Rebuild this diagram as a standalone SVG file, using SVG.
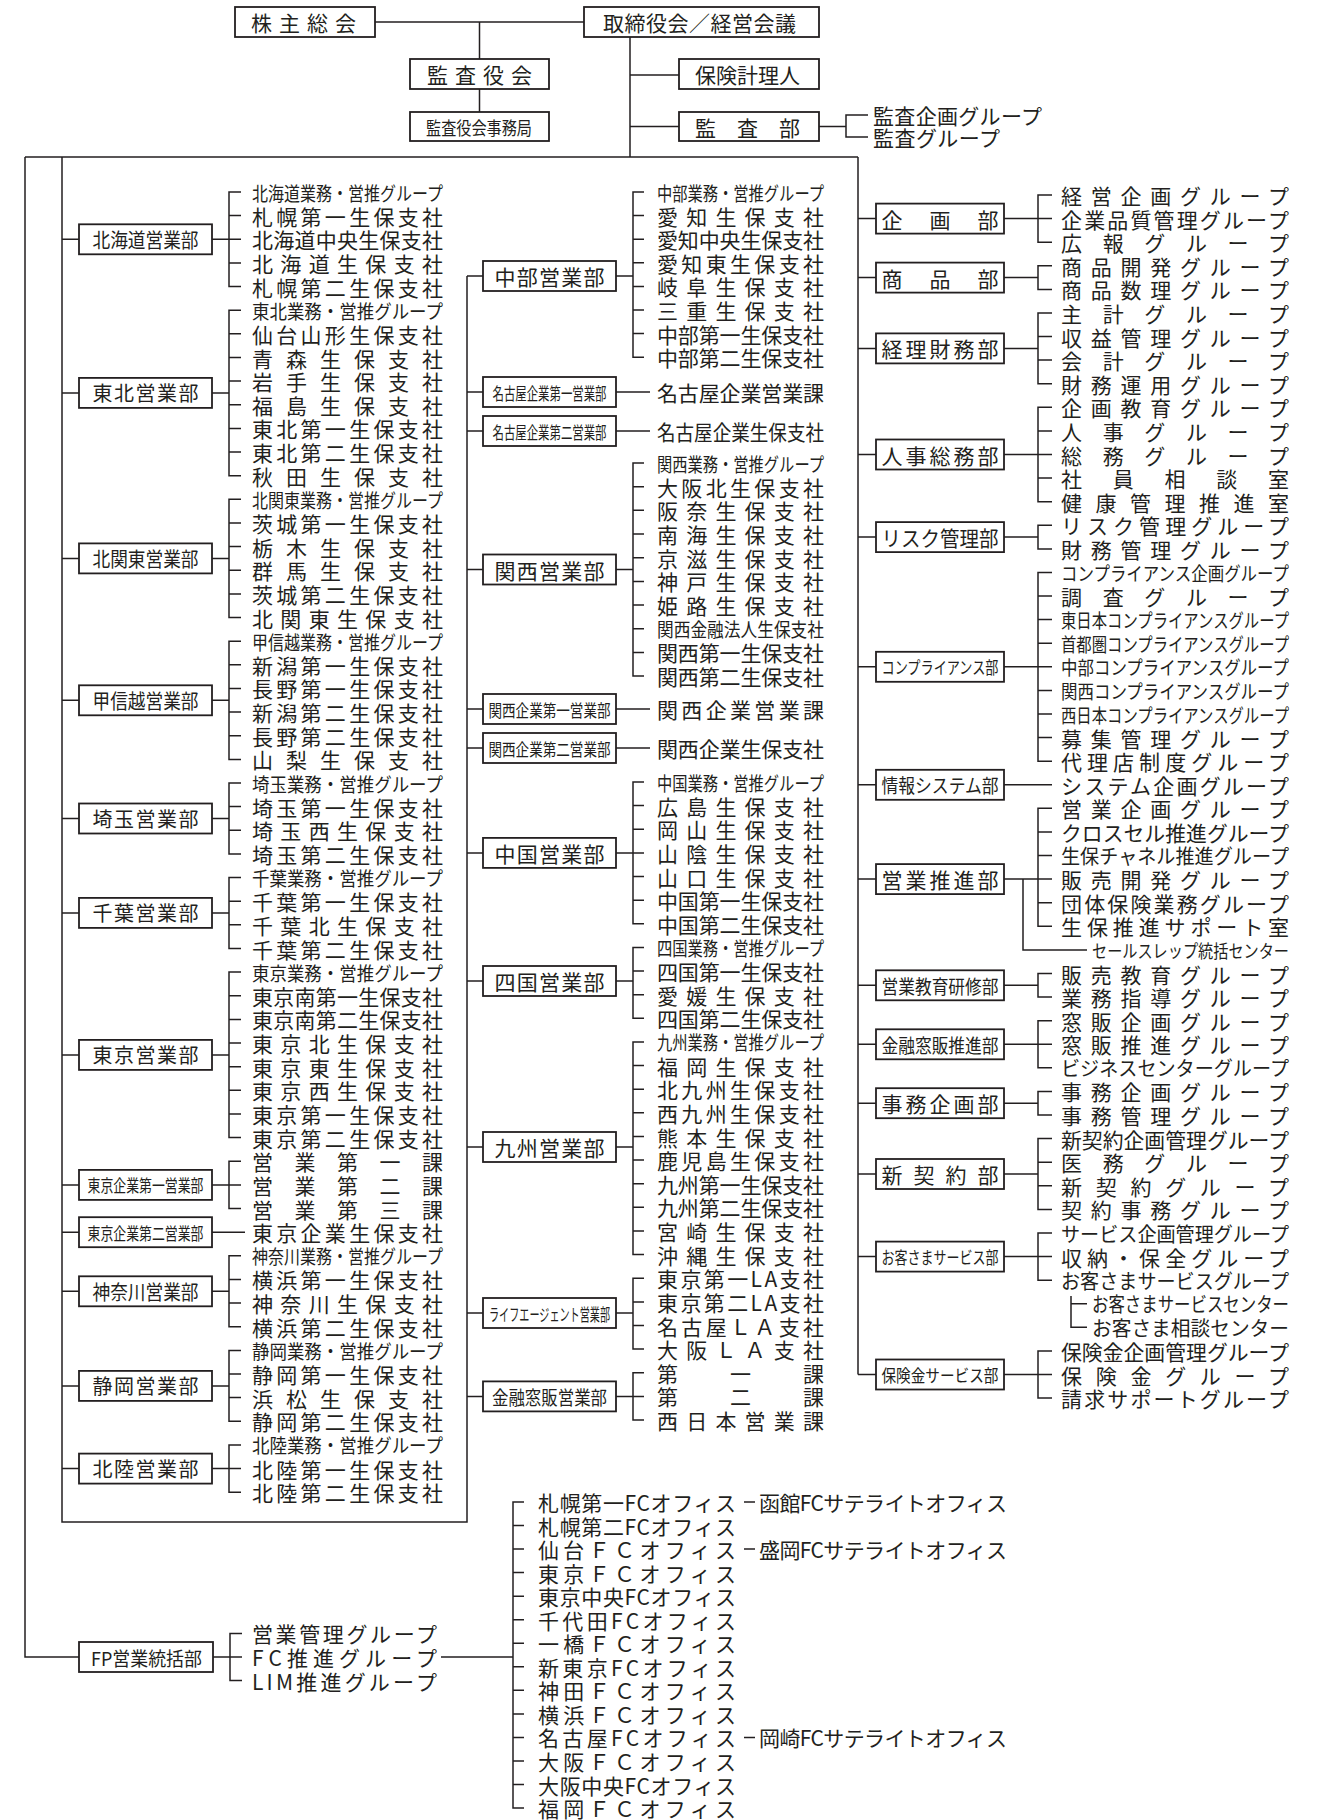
<svg xmlns="http://www.w3.org/2000/svg" width="1332" height="1820" viewBox="0 0 1332 1820">
<style>
text{font-family:"Noto Sans CJK JP","Noto Sans CJK SC",sans-serif;fill:#231f20;dominant-baseline:central}
.f21{font-size:21px}.f20{font-size:20px}.f19{font-size:19px}.f18{font-size:18px}.f17{font-size:17px}
.box{fill:#fff;stroke:#231f20;stroke-width:1.8}
#connectors path{fill:none;stroke:#231f20;stroke-width:1.5}
</style>
<rect width="1332" height="1820" fill="#fff"/>
<g id="connectors">
<path d="M375,22H584 M479.5,22V59 M479.5,89V112 M630,37V157 M630,75H679 M630,126.5H679 M819,126.5H846 M868,115H846V137H868"/>
<path d="M25,157H858 M25,157V1657H79 M62,157V1522H467V276 M858,157V1374.5"/>
<path d="M62,239.3H79 M212,239.3H229 M241,192H229V286.6H241 M229,215.6H241 M229,239.3H241 M229,262.9H241"/>
<path d="M62,392.9H79 M212,392.9H229 M241,310.2H229V475.7H241 M229,333.8H241 M229,357.5H241 M229,381.1H241 M229,404.8H241 M229,428.4H241 M229,452H241"/>
<path d="M62,558.4H79 M212,558.4H229 M241,499.3H229V617.5H241 M229,523H241 M229,546.6H241 M229,570.2H241 M229,593.9H241"/>
<path d="M62,700.3H79 M212,700.3H229 M241,641.2H229V759.4H241 M229,664.8H241 M229,688.4H241 M229,712.1H241 M229,735.7H241"/>
<path d="M62,818.5H79 M212,818.5H229 M241,783H229V853.9H241 M229,806.6H241 M229,830.3H241"/>
<path d="M62,912.9H79 M212,912.9H229 M241,877.6H229V948.5H241 M229,901.2H241 M229,924.8H241"/>
<path d="M62,1054.9H79 M212,1054.9H229 M241,972.1H229V1137.6H241 M229,995.8H241 M229,1019.4H241 M229,1043H241 M229,1066.7H241 M229,1090.3H241 M229,1114H241"/>
<path d="M62,1184.9H79 M212,1184.9H229 M241,1161.2H229V1208.5H241 M229,1184.9H241"/>
<path d="M62,1232.2H79 M212,1232.2H245"/>
<path d="M62,1291.3H79 M212,1291.3H229 M241,1255.8H229V1326.7H241 M229,1279.4H241 M229,1303.1H241"/>
<path d="M62,1385.9H79 M212,1385.9H229 M241,1350.4H229V1421.3H241 M229,1374H241 M229,1397.6H241"/>
<path d="M62,1468.6H79 M212,1468.6H229 M241,1444.9H229V1492.2H241 M229,1468.6H241"/>
<path d="M467,276H483 M616,276H633 M644,192H633V357.2H644 M633,215.6H644 M633,239.2H644 M633,262.8H644 M633,286.4H644 M633,310H644 M633,333.6H644"/>
<path d="M467,392H483 M616,392H650 M467,431H483 M616,431H650"/>
<path d="M467,569.5H483 M616,569.5H633 M644,463H633V676H644 M633,486.7H644 M633,510.3H644 M633,534H644 M633,557.7H644 M633,581.4H644 M633,605H644 M633,628.7H644 M633,652.4H644"/>
<path d="M467,709H483 M616,709H650 M467,748H483 M616,748H650"/>
<path d="M467,852.9H483 M616,852.9H633 M644,782H633V923.8H644 M633,805.6H644 M633,829.3H644 M633,852.9H644 M633,876.5H644 M633,900.2H644"/>
<path d="M467,981H483 M616,981H633 M644,947.4H633V1018.3H644 M633,971H644 M633,994.7H644"/>
<path d="M467,1147H483 M616,1147H633 M644,1041.9H633V1254.6H644 M633,1065.6H644 M633,1089.2H644 M633,1112.8H644 M633,1136.5H644 M633,1160.1H644 M633,1183.7H644 M633,1207.3H644 M633,1231H644"/>
<path d="M467,1313H483 M616,1313H633 M644,1278.2H633V1349.1H644 M633,1301.9H644 M633,1325.5H644"/>
<path d="M467,1396.4H483 M616,1396.4H633 M644,1372.8H633V1420H644 M633,1396.4H644"/>
<path d="M858,218.6H876 M1004,218.6H1038 M1052,195H1038V242.2H1052 M1038,218.6H1052"/>
<path d="M858,277.6H876 M1004,277.6H1038 M1052,265.8H1038V289.4H1052"/>
<path d="M858,348.4H876 M1004,348.4H1038 M1052,313H1038V383.7H1052 M1038,336.5H1052 M1038,360.1H1052"/>
<path d="M858,454.5H876 M1004,454.5H1038 M1052,407.3H1038V501.7H1052 M1038,430.9H1052 M1038,454.5H1052 M1038,478.1H1052"/>
<path d="M858,537.1H876 M1004,537.1H1038 M1052,525.3H1038V548.9H1052"/>
<path d="M858,666.8H876 M1004,666.8H1038 M1052,572.4H1038V761.2H1052 M1038,596H1052 M1038,619.6H1052 M1038,643.2H1052 M1038,666.8H1052 M1038,690.4H1052 M1038,714H1052 M1038,737.6H1052"/>
<path d="M858,784.8H876 M1004,784.8H1052"/>
<path d="M858,879.1H876 M1004,879.1H1038 M1052,808.3H1038V926.3H1052 M1038,831.9H1052 M1038,855.5H1052 M1038,879.1H1052 M1038,902.7H1052 M1023,879.1V949.9H1087"/>
<path d="M858,985.3H876 M1004,985.3H1038 M1052,973.5H1038V997.1H1052"/>
<path d="M858,1044.3H876 M1004,1044.3H1038 M1052,1020.7H1038V1067.8H1052 M1038,1044.3H1052"/>
<path d="M858,1103.2H876 M1004,1103.2H1038 M1052,1091.4H1038V1115H1052"/>
<path d="M858,1174H876 M1004,1174H1038 M1052,1138.6H1038V1209.4H1052 M1038,1162.2H1052 M1038,1185.8H1052"/>
<path d="M858,1256.6H876 M1004,1256.6H1038 M1052,1233H1038V1280.2H1052 M1038,1256.6H1052 M1071,1296V1327.3H1087 M1071,1303.7H1087"/>
<path d="M858,1374.5H876 M1004,1374.5H1038 M1052,1350.9H1038V1398.1H1052 M1038,1374.5H1052"/>
<path d="M213,1657H230 M242,1633.4H230V1680.6H242 M230,1657H242 M441,1657H513"/>
<path d="M524,1502H513V1808H524 M513,1525.5H524 M513,1549.1H524 M513,1572.6H524 M513,1596.2H524 M513,1619.7H524 M513,1643.2H524 M513,1666.8H524 M513,1690.3H524 M513,1713.9H524 M513,1737.4H524 M513,1760.9H524 M513,1784.5H524"/>
<path d="M744,1502H755 M744,1549.1H755 M744,1737.4H755"/>
</g>

<g id="n-kabunushi"><rect class="box" x="235" y="7" width="140" height="30"/><text class="f21" x="251" y="22" textLength="105">株主総会</text></g>
<g id="n-torishimari"><rect class="box" x="584" y="7" width="235" height="30"/><text class="f21" x="603" y="22" textLength="193">取締役会／経営会議</text></g>
<g id="n-kansayakukai"><rect class="box" x="410" y="59" width="139" height="30"/><text class="f21" x="427" y="74" textLength="105">監査役会</text></g>
<g id="n-kansajimukyoku"><rect class="box" x="410" y="112" width="139" height="29"/><text class="f18" x="426" y="126.5" textLength="106" lengthAdjust="spacingAndGlyphs">監査役会事務局</text></g>
<g id="n-hokenkeirinin"><rect class="box" x="679" y="59" width="140" height="30"/><text class="f21" x="695" y="74" textLength="105">保険計理人</text></g>
<g id="n-kansabu"><rect class="box" x="679" y="112" width="140" height="29"/><text class="f21" x="695" y="126.5" textLength="105">監査部</text></g>
<g id="items-kansabu" class="f21"><text x="873" y="115" textLength="169">監査企画グループ</text><text x="873" y="137" textLength="127">監査グループ</text></g>

<g id="n-hokkaido"><rect class="box" x="79" y="224.3" width="133" height="30"/><text class="f20" x="92.5" y="239.3" textLength="106" lengthAdjust="spacingAndGlyphs">北海道営業部</text></g>
<g id="n-tohoku"><rect class="box" x="79" y="377.9" width="133" height="30"/><text class="f20" x="92.5" y="392.9" textLength="106">東北営業部</text></g>
<g id="n-kitakanto"><rect class="box" x="79" y="543.4" width="133" height="30"/><text class="f20" x="92.5" y="558.4" textLength="106" lengthAdjust="spacingAndGlyphs">北関東営業部</text></g>
<g id="n-koshinetsu"><rect class="box" x="79" y="685.3" width="133" height="30"/><text class="f20" x="92.5" y="700.3" textLength="106" lengthAdjust="spacingAndGlyphs">甲信越営業部</text></g>
<g id="n-saitama"><rect class="box" x="79" y="803.5" width="133" height="30"/><text class="f20" x="92.5" y="818.5" textLength="106">埼玉営業部</text></g>
<g id="n-chiba"><rect class="box" x="79" y="897.9" width="133" height="30"/><text class="f20" x="92.5" y="912.9" textLength="106">千葉営業部</text></g>
<g id="n-tokyo"><rect class="box" x="79" y="1039.9" width="133" height="30"/><text class="f20" x="92.5" y="1054.9" textLength="106">東京営業部</text></g>
<g id="n-tokyokigyo1"><rect class="box" x="79" y="1169.9" width="133" height="30"/><text class="f17" x="87.5" y="1184.9" textLength="116" lengthAdjust="spacingAndGlyphs">東京企業第一営業部</text></g>
<g id="n-tokyokigyo2"><rect class="box" x="79" y="1217.2" width="133" height="30"/><text class="f17" x="87.5" y="1232.2" textLength="116" lengthAdjust="spacingAndGlyphs">東京企業第二営業部</text></g>
<g id="n-kanagawa"><rect class="box" x="79" y="1276.3" width="133" height="30"/><text class="f20" x="92.5" y="1291.3" textLength="106" lengthAdjust="spacingAndGlyphs">神奈川営業部</text></g>
<g id="n-shizuoka"><rect class="box" x="79" y="1370.9" width="133" height="30"/><text class="f20" x="92.5" y="1385.9" textLength="106">静岡営業部</text></g>
<g id="n-hokuriku"><rect class="box" x="79" y="1453.6" width="133" height="30"/><text class="f20" x="92.5" y="1468.6" textLength="106">北陸営業部</text></g>

<g id="items-left" class="f21">
<text class="f19" x="252" y="192" textLength="191" lengthAdjust="spacingAndGlyphs">北海道業務・営推グループ</text>
<text x="252" y="215.6" textLength="191">札幌第一生保支社</text>
<text x="252" y="239.3" textLength="191">北海道中央生保支社</text>
<text x="252" y="262.9" textLength="191">北海道生保支社</text>
<text x="252" y="286.6" textLength="191">札幌第二生保支社</text>
<text class="f19" x="252" y="310.2" textLength="191" lengthAdjust="spacingAndGlyphs">東北業務・営推グループ</text>
<text x="252" y="333.8" textLength="191">仙台山形生保支社</text>
<text x="252" y="357.5" textLength="191">青森生保支社</text>
<text x="252" y="381.1" textLength="191">岩手生保支社</text>
<text x="252" y="404.8" textLength="191">福島生保支社</text>
<text x="252" y="428.4" textLength="191">東北第一生保支社</text>
<text x="252" y="452" textLength="191">東北第二生保支社</text>
<text x="252" y="475.7" textLength="191">秋田生保支社</text>
<text class="f19" x="252" y="499.3" textLength="191" lengthAdjust="spacingAndGlyphs">北関東業務・営推グループ</text>
<text x="252" y="523" textLength="191">茨城第一生保支社</text>
<text x="252" y="546.6" textLength="191">栃木生保支社</text>
<text x="252" y="570.2" textLength="191">群馬生保支社</text>
<text x="252" y="593.9" textLength="191">茨城第二生保支社</text>
<text x="252" y="617.5" textLength="191">北関東生保支社</text>
<text class="f19" x="252" y="641.2" textLength="191" lengthAdjust="spacingAndGlyphs">甲信越業務・営推グループ</text>
<text x="252" y="664.8" textLength="191">新潟第一生保支社</text>
<text x="252" y="688.4" textLength="191">長野第一生保支社</text>
<text x="252" y="712.1" textLength="191">新潟第二生保支社</text>
<text x="252" y="735.7" textLength="191">長野第二生保支社</text>
<text x="252" y="759.4" textLength="191">山梨生保支社</text>
<text class="f19" x="252" y="783" textLength="191" lengthAdjust="spacingAndGlyphs">埼玉業務・営推グループ</text>
<text x="252" y="806.6" textLength="191">埼玉第一生保支社</text>
<text x="252" y="830.3" textLength="191">埼玉西生保支社</text>
<text x="252" y="853.9" textLength="191">埼玉第二生保支社</text>
<text class="f19" x="252" y="877.6" textLength="191" lengthAdjust="spacingAndGlyphs">千葉業務・営推グループ</text>
<text x="252" y="901.2" textLength="191">千葉第一生保支社</text>
<text x="252" y="924.8" textLength="191">千葉北生保支社</text>
<text x="252" y="948.5" textLength="191">千葉第二生保支社</text>
<text class="f19" x="252" y="972.1" textLength="191" lengthAdjust="spacingAndGlyphs">東京業務・営推グループ</text>
<text x="252" y="995.8" textLength="191">東京南第一生保支社</text>
<text x="252" y="1019.4" textLength="191">東京南第二生保支社</text>
<text x="252" y="1043" textLength="191">東京北生保支社</text>
<text x="252" y="1066.7" textLength="191">東京東生保支社</text>
<text x="252" y="1090.3" textLength="191">東京西生保支社</text>
<text x="252" y="1114" textLength="191">東京第一生保支社</text>
<text x="252" y="1137.6" textLength="191">東京第二生保支社</text>
<text x="252" y="1161.2" textLength="191">営業第一課</text>
<text x="252" y="1184.9" textLength="191">営業第二課</text>
<text x="252" y="1208.5" textLength="191">営業第三課</text>
<text x="252" y="1232.2" textLength="191">東京企業生保支社</text>
<text class="f19" x="252" y="1255.8" textLength="191" lengthAdjust="spacingAndGlyphs">神奈川業務・営推グループ</text>
<text x="252" y="1279.4" textLength="191">横浜第一生保支社</text>
<text x="252" y="1303.1" textLength="191">神奈川生保支社</text>
<text x="252" y="1326.7" textLength="191">横浜第二生保支社</text>
<text class="f19" x="252" y="1350.4" textLength="191" lengthAdjust="spacingAndGlyphs">静岡業務・営推グループ</text>
<text x="252" y="1374" textLength="191">静岡第一生保支社</text>
<text x="252" y="1397.6" textLength="191">浜松生保支社</text>
<text x="252" y="1421.3" textLength="191">静岡第二生保支社</text>
<text class="f19" x="252" y="1444.9" textLength="191" lengthAdjust="spacingAndGlyphs">北陸業務・営推グループ</text>
<text x="252" y="1468.6" textLength="191">北陸第一生保支社</text>
<text x="252" y="1492.2" textLength="191">北陸第二生保支社</text>
</g>

<g id="n-chubu"><rect class="box" x="483" y="261" width="133" height="30"/><text class="f21" x="494.5" y="276" textLength="110">中部営業部</text></g>
<g id="n-nagoyakigyo1"><rect class="box" x="483" y="377" width="133" height="30"/><text class="f17" x="492.5" y="392" textLength="114" lengthAdjust="spacingAndGlyphs">名古屋企業第一営業部</text></g>
<g id="n-nagoyakigyo2"><rect class="box" x="483" y="416" width="133" height="30"/><text class="f17" x="492.5" y="431" textLength="114" lengthAdjust="spacingAndGlyphs">名古屋企業第二営業部</text></g>
<g id="n-kansai"><rect class="box" x="483" y="554.5" width="133" height="30"/><text class="f21" x="494.5" y="569.5" textLength="110">関西営業部</text></g>
<g id="n-kansaikigyo1"><rect class="box" x="483" y="694" width="133" height="30"/><text class="f17" x="488.5" y="709" textLength="122" lengthAdjust="spacingAndGlyphs">関西企業第一営業部</text></g>
<g id="n-kansaikigyo2"><rect class="box" x="483" y="733" width="133" height="30"/><text class="f17" x="488.5" y="748" textLength="122" lengthAdjust="spacingAndGlyphs">関西企業第二営業部</text></g>
<g id="n-chugoku"><rect class="box" x="483" y="837.9" width="133" height="30"/><text class="f21" x="494.5" y="852.9" textLength="110">中国営業部</text></g>
<g id="n-shikoku"><rect class="box" x="483" y="966" width="133" height="30"/><text class="f21" x="494.5" y="981" textLength="110">四国営業部</text></g>
<g id="n-kyushu"><rect class="box" x="483" y="1132" width="133" height="30"/><text class="f21" x="494.5" y="1147" textLength="110">九州営業部</text></g>
<g id="n-lifeagent"><rect class="box" x="483" y="1298" width="133" height="30"/><text class="f17" x="489" y="1313" textLength="121" lengthAdjust="spacingAndGlyphs">ライフエージェント営業部</text></g>
<g id="n-kinyumadohan"><rect class="box" x="483" y="1381.4" width="133" height="30"/><text class="f19" x="492" y="1396.4" textLength="115" lengthAdjust="spacingAndGlyphs">金融窓販営業部</text></g>

<g id="items-middle" class="f21">
<text class="f19" x="657" y="192" textLength="167" lengthAdjust="spacingAndGlyphs">中部業務・営推グループ</text>
<text x="657" y="215.6" textLength="167">愛知生保支社</text>
<text x="657" y="239.2" textLength="167">愛知中央生保支社</text>
<text x="657" y="262.8" textLength="167">愛知東生保支社</text>
<text x="657" y="286.4" textLength="167">岐阜生保支社</text>
<text x="657" y="310" textLength="167">三重生保支社</text>
<text x="657" y="333.6" textLength="167">中部第一生保支社</text>
<text x="657" y="357.2" textLength="167">中部第二生保支社</text>
<text x="657" y="392" textLength="167">名古屋企業営業課</text>
<text x="657" y="431" textLength="167" lengthAdjust="spacingAndGlyphs">名古屋企業生保支社</text>
<text class="f19" x="657" y="463" textLength="167" lengthAdjust="spacingAndGlyphs">関西業務・営推グループ</text>
<text x="657" y="486.7" textLength="167">大阪北生保支社</text>
<text x="657" y="510.3" textLength="167">阪奈生保支社</text>
<text x="657" y="534" textLength="167">南海生保支社</text>
<text x="657" y="557.7" textLength="167">京滋生保支社</text>
<text x="657" y="581.4" textLength="167">神戸生保支社</text>
<text x="657" y="605" textLength="167">姫路生保支社</text>
<text class="f19" x="657" y="628.7" textLength="167" lengthAdjust="spacingAndGlyphs">関西金融法人生保支社</text>
<text x="657" y="652.4" textLength="167">関西第一生保支社</text>
<text x="657" y="676" textLength="167">関西第二生保支社</text>
<text x="657" y="709" textLength="167">関西企業営業課</text>
<text x="657" y="748" textLength="167">関西企業生保支社</text>
<text class="f19" x="657" y="782" textLength="167" lengthAdjust="spacingAndGlyphs">中国業務・営推グループ</text>
<text x="657" y="805.6" textLength="167">広島生保支社</text>
<text x="657" y="829.3" textLength="167">岡山生保支社</text>
<text x="657" y="852.9" textLength="167">山陰生保支社</text>
<text x="657" y="876.5" textLength="167">山口生保支社</text>
<text x="657" y="900.2" textLength="167">中国第一生保支社</text>
<text x="657" y="923.8" textLength="167">中国第二生保支社</text>
<text class="f19" x="657" y="947.4" textLength="167" lengthAdjust="spacingAndGlyphs">四国業務・営推グループ</text>
<text x="657" y="971" textLength="167">四国第一生保支社</text>
<text x="657" y="994.7" textLength="167">愛媛生保支社</text>
<text x="657" y="1018.3" textLength="167">四国第二生保支社</text>
<text class="f19" x="657" y="1041.9" textLength="167" lengthAdjust="spacingAndGlyphs">九州業務・営推グループ</text>
<text x="657" y="1065.6" textLength="167">福岡生保支社</text>
<text x="657" y="1089.2" textLength="167">北九州生保支社</text>
<text x="657" y="1112.8" textLength="167">西九州生保支社</text>
<text x="657" y="1136.5" textLength="167">熊本生保支社</text>
<text x="657" y="1160.1" textLength="167">鹿児島生保支社</text>
<text x="657" y="1183.7" textLength="167">九州第一生保支社</text>
<text x="657" y="1207.3" textLength="167">九州第二生保支社</text>
<text x="657" y="1231" textLength="167">宮崎生保支社</text>
<text x="657" y="1254.6" textLength="167">沖縄生保支社</text>
<text x="657" y="1278.2" textLength="167">東京第一LA支社</text>
<text x="657" y="1301.9" textLength="167">東京第二LA支社</text>
<text x="657" y="1325.5" textLength="167">名古屋ＬＡ支社</text>
<text x="657" y="1349.1" textLength="167">大阪ＬＡ支社</text>
<text x="657" y="1372.8" textLength="167">第一課</text>
<text x="657" y="1396.4" textLength="167">第二課</text>
<text x="657" y="1420" textLength="167">西日本営業課</text>
</g>

<g id="n-kikaku"><rect class="box" x="876" y="203.6" width="128" height="30"/><text class="f21" x="881.5" y="218.6" textLength="117">企画部</text></g>
<g id="n-shohin"><rect class="box" x="876" y="262.6" width="128" height="30"/><text class="f21" x="881.5" y="277.6" textLength="117">商品部</text></g>
<g id="n-keirizaimu"><rect class="box" x="876" y="333.4" width="128" height="30"/><text class="f21" x="881.5" y="348.4" textLength="117">経理財務部</text></g>
<g id="n-jinjisomu"><rect class="box" x="876" y="439.5" width="128" height="30"/><text class="f21" x="881.5" y="454.5" textLength="117">人事総務部</text></g>
<g id="n-risk"><rect class="box" x="876" y="522.1" width="128" height="30"/><text class="f21" x="881.5" y="537.1" textLength="117" lengthAdjust="spacingAndGlyphs">リスク管理部</text></g>
<g id="n-compliance"><rect class="box" x="876" y="651.8" width="128" height="30"/><text class="f17" x="881.5" y="666.8" textLength="117" lengthAdjust="spacingAndGlyphs">コンプライアンス部</text></g>
<g id="n-joho"><rect class="box" x="876" y="769.8" width="128" height="30"/><text class="f19" x="881.5" y="784.8" textLength="117" lengthAdjust="spacingAndGlyphs">情報システム部</text></g>
<g id="n-eigyosuishin"><rect class="box" x="876" y="864.1" width="128" height="30"/><text class="f21" x="881.5" y="879.1" textLength="117">営業推進部</text></g>
<g id="n-eigyokyoiku"><rect class="box" x="876" y="970.3" width="128" height="30"/><text class="f19" x="881.5" y="985.3" textLength="117" lengthAdjust="spacingAndGlyphs">営業教育研修部</text></g>
<g id="n-madohansuishin"><rect class="box" x="876" y="1029.3" width="128" height="30"/><text class="f19" x="881.5" y="1044.3" textLength="117" lengthAdjust="spacingAndGlyphs">金融窓販推進部</text></g>
<g id="n-jimukikaku"><rect class="box" x="876" y="1088.2" width="128" height="30"/><text class="f21" x="881.5" y="1103.2" textLength="117">事務企画部</text></g>
<g id="n-shinkeiyaku"><rect class="box" x="876" y="1159" width="128" height="30"/><text class="f21" x="881.5" y="1174" textLength="117">新契約部</text></g>
<g id="n-okyakusama"><rect class="box" x="876" y="1241.6" width="128" height="30"/><text class="f17" x="881.5" y="1256.6" textLength="117" lengthAdjust="spacingAndGlyphs">お客さまサービス部</text></g>
<g id="n-hokenkin"><rect class="box" x="876" y="1359.5" width="128" height="30"/><text class="f17" x="881.5" y="1374.5" textLength="117" lengthAdjust="spacingAndGlyphs">保険金サービス部</text></g>

<g id="items-right" class="f21">
<text x="1061" y="195" textLength="228">経営企画グループ</text>
<text x="1061" y="218.6" textLength="228">企業品質管理グループ</text>
<text x="1061" y="242.2" textLength="228">広報グループ</text>
<text x="1061" y="265.8" textLength="228">商品開発グループ</text>
<text x="1061" y="289.4" textLength="228">商品数理グループ</text>
<text x="1061" y="313" textLength="228">主計グループ</text>
<text x="1061" y="336.5" textLength="228">収益管理グループ</text>
<text x="1061" y="360.1" textLength="228">会計グループ</text>
<text x="1061" y="383.7" textLength="228">財務運用グループ</text>
<text x="1061" y="407.3" textLength="228">企画教育グループ</text>
<text x="1061" y="430.9" textLength="228">人事グループ</text>
<text x="1061" y="454.5" textLength="228">総務グループ</text>
<text x="1061" y="478.1" textLength="228">社員相談室</text>
<text x="1061" y="501.7" textLength="228">健康管理推進室</text>
<text x="1061" y="525.3" textLength="228">リスク管理グループ</text>
<text x="1061" y="548.9" textLength="228">財務管理グループ</text>
<text class="f19" x="1061" y="572.4" textLength="228" lengthAdjust="spacingAndGlyphs">コンプライアンス企画グループ</text>
<text x="1061" y="596" textLength="228">調査グループ</text>
<text class="f19" x="1061" y="619.6" textLength="228" lengthAdjust="spacingAndGlyphs">東日本コンプライアンスグループ</text>
<text class="f19" x="1061" y="643.2" textLength="228" lengthAdjust="spacingAndGlyphs">首都圏コンプライアンスグループ</text>
<text class="f19" x="1061" y="666.8" textLength="228" lengthAdjust="spacingAndGlyphs">中部コンプライアンスグループ</text>
<text class="f19" x="1061" y="690.4" textLength="228" lengthAdjust="spacingAndGlyphs">関西コンプライアンスグループ</text>
<text class="f19" x="1061" y="714" textLength="228" lengthAdjust="spacingAndGlyphs">西日本コンプライアンスグループ</text>
<text x="1061" y="737.6" textLength="228">募集管理グループ</text>
<text x="1061" y="761.2" textLength="228">代理店制度グループ</text>
<text x="1061" y="784.8" textLength="228">システム企画グループ</text>
<text x="1061" y="808.3" textLength="228">営業企画グループ</text>
<text x="1061" y="831.9" textLength="228" lengthAdjust="spacingAndGlyphs">クロスセル推進グループ</text>
<text class="f20" x="1061" y="855.5" textLength="228" lengthAdjust="spacingAndGlyphs">生保チャネル推進グループ</text>
<text x="1061" y="879.1" textLength="228">販売開発グループ</text>
<text x="1061" y="902.7" textLength="228">団体保険業務グループ</text>
<text x="1061" y="926.3" textLength="228">生保推進サポート室</text>
<text class="f18" x="1092" y="949.9" textLength="197" lengthAdjust="spacingAndGlyphs">セールスレップ統括センター</text>
<text x="1061" y="973.5" textLength="228">販売教育グループ</text>
<text x="1061" y="997.1" textLength="228">業務指導グループ</text>
<text x="1061" y="1020.7" textLength="228">窓販企画グループ</text>
<text x="1061" y="1044.3" textLength="228">窓販推進グループ</text>
<text class="f20" x="1061" y="1067.8" textLength="228" lengthAdjust="spacingAndGlyphs">ビジネスセンターグループ</text>
<text x="1061" y="1091.4" textLength="228">事務企画グループ</text>
<text x="1061" y="1115" textLength="228">事務管理グループ</text>
<text x="1061" y="1138.6" textLength="228" lengthAdjust="spacingAndGlyphs">新契約企画管理グループ</text>
<text x="1061" y="1162.2" textLength="228">医務グループ</text>
<text x="1061" y="1185.8" textLength="228">新契約グループ</text>
<text x="1061" y="1209.4" textLength="228">契約事務グループ</text>
<text class="f20" x="1061" y="1233" textLength="228" lengthAdjust="spacingAndGlyphs">サービス企画管理グループ</text>
<text x="1061" y="1256.6" textLength="228">収納・保全グループ</text>
<text class="f20" x="1061" y="1280.2" textLength="228" lengthAdjust="spacingAndGlyphs">お客さまサービスグループ</text>
<text class="f20" x="1092" y="1303.7" textLength="197" lengthAdjust="spacingAndGlyphs">お客さまサービスセンター</text>
<text class="f20" x="1092" y="1327.3" textLength="197" lengthAdjust="spacingAndGlyphs">お客さま相談センター</text>
<text x="1061" y="1350.9" textLength="228" lengthAdjust="spacingAndGlyphs">保険金企画管理グループ</text>
<text x="1061" y="1374.5" textLength="228">保険金グループ</text>
<text x="1061" y="1398.1" textLength="228">請求サポートグループ</text>
</g>

<g id="n-fp"><rect class="box" x="79" y="1642" width="134" height="30"/><text class="f19" x="91" y="1657" textLength="111" lengthAdjust="spacingAndGlyphs">FP営業統括部</text></g>
<g id="items-fp" class="f21">
<text x="252" y="1633.4" textLength="185">営業管理グループ</text>
<text x="252" y="1657" textLength="185">FC推進グループ</text>
<text x="252" y="1680.6" textLength="185">LIM推進グループ</text>
</g>
<g id="items-fc" class="f21">
<text x="538" y="1502" textLength="198">札幌第一FCオフィス</text>
<text x="759" y="1502" textLength="248">函館FCサテライトオフィス</text>
<text x="538" y="1525.5" textLength="198">札幌第二FCオフィス</text>
<text x="538" y="1549.1" textLength="198">仙台ＦＣオフィス</text>
<text x="759" y="1549.1" textLength="248">盛岡FCサテライトオフィス</text>
<text x="538" y="1572.6" textLength="198">東京ＦＣオフィス</text>
<text x="538" y="1596.2" textLength="198">東京中央FCオフィス</text>
<text x="538" y="1619.7" textLength="198">千代田FCオフィス</text>
<text x="538" y="1643.2" textLength="198">一橋ＦＣオフィス</text>
<text x="538" y="1666.8" textLength="198">新東京FCオフィス</text>
<text x="538" y="1690.3" textLength="198">神田ＦＣオフィス</text>
<text x="538" y="1713.9" textLength="198">横浜ＦＣオフィス</text>
<text x="538" y="1737.4" textLength="198">名古屋FCオフィス</text>
<text x="759" y="1737.4" textLength="248">岡崎FCサテライトオフィス</text>
<text x="538" y="1760.9" textLength="198">大阪ＦＣオフィス</text>
<text x="538" y="1784.5" textLength="198">大阪中央FCオフィス</text>
<text x="538" y="1808" textLength="198">福岡ＦＣオフィス</text>
</g>
</svg>
